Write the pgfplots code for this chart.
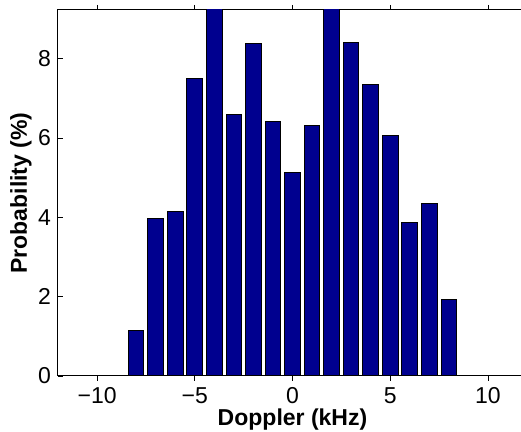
\documentclass[border=0pt]{standalone}
\usepackage{fontspec}
\setmainfont{Liberation Sans}
\usepackage{pgfplots}
\pgfplotsset{compat=1.18}
\definecolor{barblue}{RGB}{0,0,143}
\begin{document}
\begin{tikzpicture}
\begin{scope}
\clip (-40pt,-40pt) rectangle (231.5pt,200pt);
\begin{axis}[
 scale only axis, width=234.5pt, height=183pt,
 xmin=-12, xmax=12, ymin=0, ymax=9.23,
 xtick={-10,-5,0,5,10}, xticklabels={−10,−5,0,5,10},
 ytick={0,2,4,6,8}, yticklabels={0,2,4,6,8},
 tick align=inside, major tick length=2.5pt, minor tick num=0,
 tick style={black, line width=0.4pt},
 axis line style={line width=0.5pt},
 xlabel={Doppler (kHz)}, ylabel={Probability (\%)},
 ticklabel style={font=\fontsize{11.5pt}{13pt}\selectfont},
 xticklabel style={inner sep=1pt, yshift=-2.2pt},
 every axis x label/.style={at={(axis description cs:0.5,-0.12)}, anchor=center, inner sep=0pt, font=\fontsize{11.5pt}{13pt}\selectfont\bfseries},
 every axis y label/.style={at={(axis description cs:-0.079,0.5)}, anchor=center, rotate=90, font=\fontsize{11.5pt}{13pt}\selectfont\bfseries},
 ybar, bar width=0.8,
]
\addplot[fill=barblue, draw=black, line width=0.5pt] coordinates {
(-8,1.15) (-7,3.97) (-6,4.16) (-5,7.51) (-4,9.5) (-3,6.60) (-2,8.39) (-1,6.42)
(0,5.12) (1,6.32) (2,9.5) (3,8.42) (4,7.35) (5,6.06) (6,3.87) (7,4.34) (8,1.92)
};
\end{axis}
\end{scope}
\pgfresetboundingbox
\path[use as bounding box] (-29pt,-28pt) rectangle (231.5pt,188pt);
\end{tikzpicture}
\end{document}
